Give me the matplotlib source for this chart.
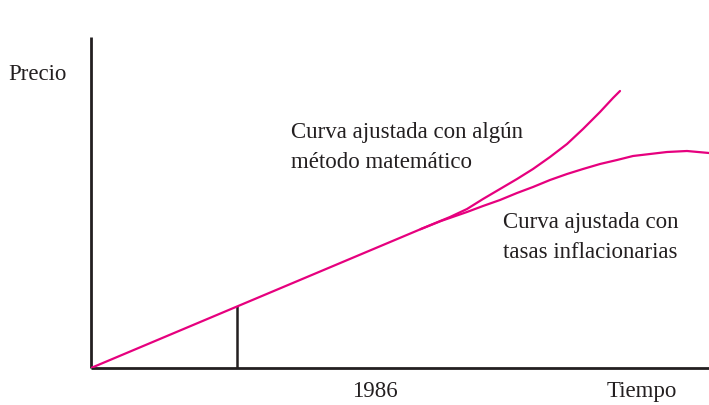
import matplotlib.pyplot as plt

# straight trend up to where the two fits split
base_t = [0, 330]
base_p = [0, 139]

# fitted with some mathematical method (grows faster)
upper_t = [330, 342, 359, 376, 392, 409, 426, 442, 459, 476, 492, 509, 522, 529]
upper_p = [139, 144, 151, 159, 169, 179, 189, 199, 211, 224, 239, 256, 270, 277]

# fitted with inflation rates (flattens out)
lower_t = [330, 350, 376, 392, 409, 426, 442, 459, 476, 492, 509, 526, 542, 559, 576, 596, 618]
lower_p = [139, 147, 156, 162, 168, 175, 181, 188, 194, 199, 204, 208, 212, 214, 216, 217, 215]

mark_t = 146  # 1986
mark_p = 61

pink = '#E6007E'
ink = '#231F20'
W, H = 709, 406


def px(x, y):
    return x / W, 1 - y / H


def main():
    plt.rcParams['font.family'] = ['Liberation Serif', 'DejaVu Serif']
    fig = plt.figure(figsize=(W / 100, H / 100), dpi=100)
    ax = fig.add_axes([91 / W, (H - 369) / H, (W - 91) / W, (369 - 38) / H])
    ax.set_xlim(0, 618)
    ax.set_ylim(0, 331)
    ax.axis('off')

    ax.plot([0, 618], [0, 0], color=ink, lw=2.0, clip_on=False, solid_capstyle='butt')
    ax.plot([0, 0], [0, 331], color=ink, lw=2.0, clip_on=False, solid_capstyle='butt')
    ax.plot([mark_t, mark_t], [0, mark_p], color=ink, lw=1.8)

    ax.plot(base_t, base_p, color=pink, lw=1.6, solid_capstyle='round')
    ax.plot(upper_t, upper_p, color=pink, lw=1.6, solid_capstyle='round', solid_joinstyle='round')
    ax.plot(lower_t, lower_p, color=pink, lw=1.6, clip_on=False, solid_joinstyle='round')

    fs = 16.5
    fig.text(*px(8, 80), 'Precio', fontsize=fs, color=ink, va='baseline')
    fig.text(*px(375, 397), '1986', fontsize=fs, color=ink, va='baseline', ha='center')
    fig.text(*px(607, 397), 'Tiempo', fontsize=fs, color=ink, va='baseline')
    fig.text(*px(291, 138), 'Curva ajustada con algún', fontsize=fs, color=ink, va='baseline')
    fig.text(*px(291, 168), 'método matemático', fontsize=fs, color=ink, va='baseline')
    fig.text(*px(503, 228), 'Curva ajustada con', fontsize=fs, color=ink, va='baseline')
    fig.text(*px(503, 258), 'tasas inflacionarias', fontsize=fs, color=ink, va='baseline')

    fig.savefig('out.png', dpi=100)


if __name__ == "__main__":
    main()
